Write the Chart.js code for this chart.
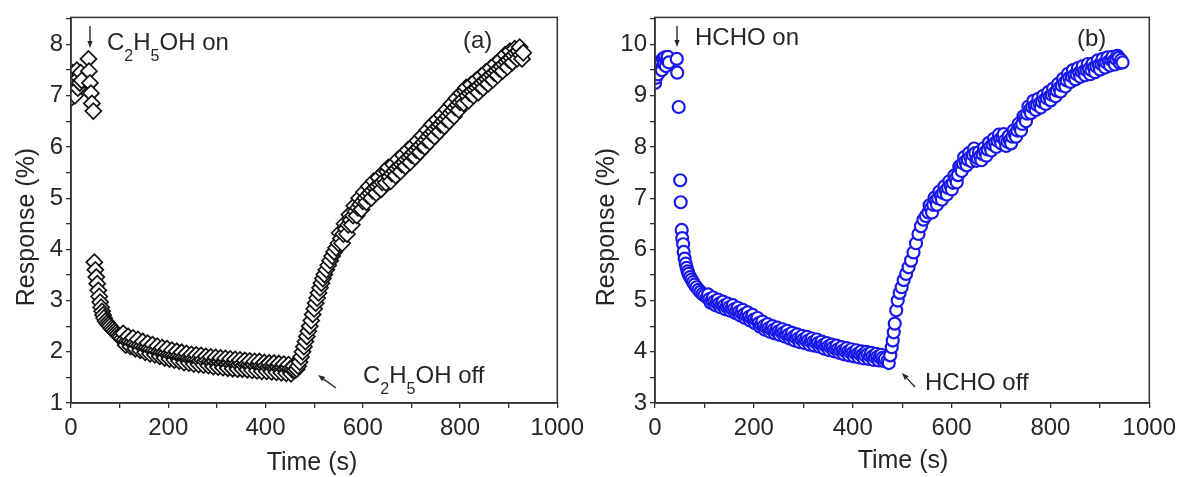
<!DOCTYPE html>
<html><head><meta charset="utf-8">
<script src="https://cdn.jsdelivr.net/npm/chart.js@4.4.1/dist/chart.umd.min.js"></script>
<style>
html,body{margin:0;padding:0;background:#fff;width:1182px;height:477px;overflow:hidden}
#wa{position:absolute;left:0;top:0;width:590px;height:477px}
#wb{position:absolute;left:590px;top:0;width:592px;height:477px}
</style></head><body>
<div id="wa"><canvas id="ca" width="590" height="477"></canvas></div>
<div id="wb"><canvas id="cb" width="592" height="477"></canvas></div>
<script>
// ---- data (a) C2H5OH : main readings ----
const timeA = [0,2,4,6,8,10,12,14,16,18,20,22,36,37,39,41,43,46,
48,50,52,54,56,58,60,62,64,66,68,71,74,77,80,83,86,89,92,95,98,101,
105,110,115,120,125,130,135,140,145,150,155,160,165,170,175,180,185,190,195,200,
205,210,215,220,225,230,235,240,245,250,255,260,265,270,275,280,285,290,295,300,
305,310,315,320,325,330,335,340,345,350,355,360,365,370,375,380,385,390,395,400,
405,410,415,420,425,430,435,440,445,450,455,460,
464,467,470,473,476,479,482,485,488,491,494,497,500,503,506,509,512,515,518,521,
525,529,533,537,541,545,550,555,560,565,570,575,580,585,590,595,600,605,610,615,
620,625,630,635,640,645,650,655,660,665,670,675,680,685,690,695,700,705,710,715,
720,725,730,735,740,745,750,755,760,765,770,775,780,785,790,795,800,805,810,815,
820,825,830,835,840,845,850,855,860,865,870,875,880,885,890,895,900,905,910,915,
920,925,930];
const respA = [6.95,7.1,7.45,7.2,7.0,7.3,7.5,7.15,7.35,7.25,7.45,7.3,7.72,7.48,7.25,7.05,6.85,6.7,
3.75,3.6,3.46,3.33,3.2,3.08,2.97,2.87,2.79,2.72,2.66,2.6,2.56,2.53,2.5,2.46,2.43,2.4,2.37,2.34,2.31,2.29,
2.26,2.23,2.21,2.2,2.18,2.16,2.14,2.12,2.11,2.09,2.08,2.06,2.05,2.03,2.02,2.0,1.99,1.98,1.97,1.95,
1.94,1.93,1.92,1.91,1.9,1.89,1.88,1.87,1.86,1.86,1.85,1.84,1.83,1.84,1.82,1.83,1.81,1.8,1.81,1.79,
1.8,1.78,1.79,1.77,1.78,1.76,1.77,1.76,1.75,1.76,1.74,1.75,1.74,1.73,1.74,1.72,1.73,1.72,1.71,1.72,
1.7,1.71,1.7,1.69,1.7,1.68,1.69,1.67,1.68,1.66,1.65,1.64,
1.66,1.72,1.8,1.9,2.0,2.1,2.2,2.3,2.4,2.5,2.61,2.73,2.84,2.95,3.05,3.15,3.25,3.34,3.43,3.51,
3.6,3.69,3.78,3.87,3.95,4.03,4.12,4.21,4.3,4.4,4.48,4.57,4.66,4.74,4.81,4.88,4.94,5.0,5.05,5.1,
5.15,5.2,5.23,5.27,5.31,5.36,5.52,5.42,5.48,5.53,5.58,5.62,5.66,5.7,5.76,5.8,5.84,5.9,5.94,5.99,
6.04,6.09,6.14,6.2,6.26,6.3,6.36,6.4,6.44,6.5,6.55,6.6,6.66,6.71,6.77,6.82,6.87,6.92,7.1,7.0,
7.05,7.09,7.13,7.16,7.2,7.25,7.29,7.33,7.37,7.41,7.45,7.49,7.53,7.57,7.62,7.66,7.7,7.74,7.79,7.84,
7.87,7.8,7.84];
// ---- data (a) : interleaved readings (scatter of the band) ----
const timeA2 = [107.5,112.5,117.5,122.5,127.5,132.5,137.5,142.5,147.5,152.5,157.5,162.5,167.5,172.5,177.5,
182.5,187.5,192.5,197.5,202.5,207.5,212.5,217.5,222.5,227.5,232.5,237.5,242.5,247.5,252.5,
257.5,262.5,267.5,272.5,277.5,282.5,287.5,292.5,297.5,302.5,307.5,312.5,317.5,322.5,327.5,
332.5,337.5,342.5,347.5,352.5,357.5,362.5,367.5,372.5,377.5,382.5,387.5,392.5,397.5,402.5,
407.5,412.5,417.5,422.5,427.5,432.5,437.5,442.5,447.5,452.5,457.5,
552.5,557.5,562.5,567.5,572.5,577.5,582.5,587.5,592.5,597.5,602.5,607.5,612.5,617.5,622.5,
627.5,632.5,637.5,642.5,647.5,652.5,657.5,662.5,667.5,672.5,677.5,682.5,687.5,692.5,697.5,
702.5,707.5,712.5,717.5,722.5,727.5,732.5,737.5,742.5,747.5,752.5,757.5,762.5,767.5,772.5,
777.5,782.5,787.5,792.5,797.5,802.5,807.5,812.5,817.5,822.5,827.5,832.5,837.5,842.5,847.5,
852.5,857.5,862.5,867.5,872.5,877.5,882.5,887.5,892.5,897.5,902.5,907.5,912.5,917.5,922.5,927.5];
const respA2 = [2.36,2.13,2.30,2.10,2.27,2.06,2.24,2.03,2.20,1.99,2.17,1.96,2.14,1.94,2.11,
1.91,2.08,1.88,2.06,1.86,2.03,1.84,2.01,1.82,1.99,1.79,1.97,1.78,1.95,1.76,
1.94,1.75,1.93,1.74,1.91,1.73,1.90,1.71,1.89,1.70,1.88,1.69,1.87,1.68,1.86,
1.67,1.85,1.66,1.84,1.66,1.83,1.65,1.82,1.64,1.81,1.63,1.81,1.62,1.79,1.62,
1.78,1.61,1.78,1.60,1.77,1.59,1.76,1.58,1.75,1.57,1.72,
4.32,4.12,4.5,4.3,4.68,4.48,4.85,4.66,5.0,4.78,5.12,4.92,5.23,5.0,5.33,
5.1,5.4,5.17,5.5,5.3,5.6,5.33,5.66,5.44,5.76,5.52,5.84,5.62,5.94,5.7,
6.02,5.8,6.12,5.9,6.22,6.0,6.33,6.1,6.44,6.2,6.53,6.3,6.62,6.4,6.73,
6.5,6.84,6.6,6.95,6.72,7.05,6.85,7.16,6.9,7.22,7.0,7.3,7.06,7.38,7.15,
7.46,7.23,7.54,7.31,7.62,7.4,7.7,7.48,7.8,7.56,7.87,7.65,7.92,7.72,7.95,7.72];

// ---- data (b) HCHO : main readings ----
const timeB = [0,2,4,6,8,10,12,14,16,18,20,22,24,26,28,44,45,
48,51,52,54,55,57,58,60,62,64,66,68,71,74,77,80,84,88,92,96,100,
105,110,115,120,125,130,135,140,145,150,155,160,165,170,175,180,185,190,195,200,
205,210,215,220,225,230,235,240,245,250,255,260,265,270,275,280,285,290,295,300,
305,310,315,320,325,330,335,340,345,350,355,360,365,370,375,380,385,390,395,400,
405,410,415,420,425,430,435,440,445,450,455,460,465,470,473,
476,479,481,483,485,488,491,495,499,503,508,513,518,523,528,533,538,543,548,553,
558,563,568,573,578,583,588,593,598,603,608,613,618,623,628,633,638,643,648,653,
658,663,668,673,678,683,688,693,698,703,708,713,718,723,728,733,738,743,748,753,
758,763,768,773,778,783,788,793,798,803,808,813,818,823,828,833,838,843,848,853,
858,863,868,873,878,883,888,893,898,903,908,913,918,923,928,933,938,943,946];
const respB = [9.25,9.35,9.5,9.42,9.6,9.55,9.68,9.5,9.72,9.62,9.75,9.58,9.7,9.76,9.65,9.72,9.45,
8.78,7.35,6.92,6.38,6.22,6.1,5.95,5.82,5.72,5.64,5.57,5.52,5.46,5.41,5.36,5.31,5.26,5.21,5.17,5.13,5.1,
5.06,5.03,5.0,4.98,4.96,4.94,4.92,4.9,4.88,4.87,4.85,4.83,4.8,4.78,4.76,4.73,4.71,4.68,4.66,4.63,
4.62,4.56,4.53,4.5,4.48,4.46,4.44,4.43,4.41,4.4,4.39,4.37,4.35,4.33,4.31,4.29,4.28,4.26,4.25,4.24,
4.23,4.22,4.2,4.19,4.18,4.17,4.15,4.13,4.12,4.1,4.09,4.08,4.06,4.05,4.03,4.02,4.01,4.0,3.99,3.98,
3.97,3.96,3.95,3.94,3.93,3.95,3.92,3.91,3.9,3.9,3.89,3.88,3.86,3.82,3.78,
3.93,4.09,4.22,4.38,4.55,4.81,5.0,5.15,5.26,5.4,5.52,5.65,5.78,5.94,6.12,6.3,6.45,6.58,6.65,6.72,
6.8,6.87,6.95,7.0,7.05,7.1,7.15,7.2,7.25,7.3,7.38,7.45,7.58,7.68,7.72,7.75,7.8,7.85,7.88,7.78,
7.82,7.86,7.9,7.95,8.0,8.05,8.08,8.12,8.15,8.18,8.12,8.1,8.13,8.2,8.25,8.32,8.38,8.45,8.55,8.65,
8.72,8.78,8.8,8.82,8.85,8.88,8.92,8.95,8.98,9.02,9.05,9.1,9.15,9.2,9.25,9.3,9.35,9.38,9.4,9.42,
9.45,9.47,9.48,9.5,9.52,9.5,9.55,9.57,9.6,9.62,9.63,9.65,9.67,9.7,9.68,9.72,9.74,9.7,9.65];
// ---- data (b) : interleaved readings (scatter of the band) ----
const timeB2 = [107.5,112.5,117.5,122.5,127.5,132.5,137.5,142.5,147.5,152.5,157.5,162.5,167.5,172.5,177.5,
182.5,187.5,192.5,197.5,202.5,207.5,212.5,217.5,222.5,227.5,232.5,237.5,242.5,247.5,252.5,
257.5,262.5,267.5,272.5,277.5,282.5,287.5,292.5,297.5,302.5,307.5,312.5,317.5,322.5,327.5,
332.5,337.5,342.5,347.5,352.5,357.5,362.5,367.5,372.5,377.5,382.5,387.5,392.5,397.5,402.5,
407.5,412.5,417.5,422.5,427.5,432.5,437.5,442.5,447.5,452.5,457.5,462.5,
555.5,560.5,565.5,570.5,575.5,580.5,585.5,590.5,595.5,600.5,605.5,610.5,615.5,620.5,625.5,
630.5,635.5,640.5,645.5,650.5,655.5,660.5,665.5,670.5,675.5,680.5,685.5,690.5,695.5,700.5,
705.5,710.5,715.5,720.5,725.5,730.5,735.5,740.5,745.5,750.5,755.5,760.5,765.5,770.5,775.5,
780.5,785.5,790.5,795.5,800.5,805.5,810.5,815.5,820.5,825.5,830.5,835.5,840.5,845.5,850.5,
855.5,860.5,865.5,870.5,875.5,880.5,885.5,890.5,895.5,900.5,905.5,910.5,915.5,920.5,925.5,
930.5,935.5,940.5];
const respB2 = [5.12,4.96,5.06,4.91,5.02,4.87,4.98,4.83,4.94,4.8,4.91,4.76,4.86,4.71,4.82,
4.66,4.77,4.61,4.72,4.56,4.66,4.49,4.59,4.43,4.54,4.39,4.5,4.36,4.47,4.33,
4.44,4.3,4.41,4.26,4.37,4.22,4.34,4.19,4.31,4.17,4.29,4.14,4.26,4.12,4.24,
4.1,4.2,4.06,4.17,4.03,4.14,4.01,4.12,3.98,4.09,3.95,4.07,3.93,4.05,3.91,
4.03,3.89,4.01,3.87,4.0,3.86,3.98,3.84,3.96,3.83,3.94,3.82,
6.86,6.72,7.01,6.87,7.13,6.97,7.23,7.07,7.33,7.17,7.44,7.31,7.62,7.53,7.8,
7.64,7.88,7.72,7.97,7.73,7.9,7.74,7.98,7.83,8.08,7.93,8.16,8.0,8.24,8.07,
8.25,8.02,8.21,8.07,8.32,8.2,8.45,8.32,8.6,8.5,8.79,8.66,8.9,8.72,8.94,
8.77,9.0,8.84,9.07,8.91,9.14,8.99,9.23,9.08,9.33,9.18,9.43,9.27,9.5,9.32,
9.54,9.37,9.58,9.4,9.62,9.42,9.63,9.46,9.69,9.51,9.72,9.55,9.75,9.59,9.76,
9.61,9.78,9.64];

const xTickLabels = [0,200,400,600,800,1000];
const yTickLabelsA = [1,2,3,4,5,6,7,8];
const yTickLabelsB = [3,4,5,6,7,8,9,10];

const FONT = '"Liberation Sans", Arial, Helvetica, sans-serif';
const INK = '#262626';
Chart.defaults.font.family = FONT;
Chart.defaults.color = INK;

function arrow(ctx, x1, y1, x2, y2) {
  const a = Math.atan2(y2 - y1, x2 - x1), L = 7, W = 2.6;
  ctx.beginPath(); ctx.moveTo(x1, y1);
  ctx.lineTo(x2 - L * Math.cos(a), y2 - L * Math.sin(a)); ctx.stroke();
  ctx.beginPath(); ctx.moveTo(x2, y2);
  ctx.lineTo(x2 - L * Math.cos(a) + W * Math.sin(a), y2 - L * Math.sin(a) - W * Math.cos(a));
  ctx.lineTo(x2 - L * Math.cos(a) - W * Math.sin(a), y2 - L * Math.sin(a) + W * Math.cos(a));
  ctx.closePath(); ctx.fill();
}
function rich(ctx, parts, x, y, size) {
  let cx = x;
  for (const [s, sub] of parts) {
    ctx.font = (sub ? 16 : size) + 'px ' + FONT;
    ctx.fillText(s, cx, sub ? y + 11 : y);
    cx += ctx.measureText(s).width;
  }
}

const decor = {
  id: 'decor',
  afterDatasetsDraw(chart, args, o) {
    const ca = chart.chartArea, ctx = chart.ctx;
    ctx.save();
    ctx.strokeStyle = '#333'; ctx.lineWidth = 1.5;
    ctx.strokeRect(ca.left, ca.top, ca.right - ca.left, ca.bottom - ca.top);
    ctx.restore();
  },
  afterDraw(chart, args, o) {
    const ctx = chart.ctx;
    ctx.save();
    ctx.fillStyle = INK; ctx.strokeStyle = INK; ctx.lineWidth = 1.4;
    ctx.textBaseline = 'alphabetic'; ctx.textAlign = 'left';
    for (const t of o.texts) rich(ctx, t.parts, t.x, t.y, 24);
    for (const a of o.arrows) arrow(ctx, a[0], a[1], a[2], a[3]);
    ctx.font = '25px ' + FONT;
    ctx.textAlign = 'center';
    ctx.fillText('Time (s)', o.xTitle[0], o.xTitle[1]);
    ctx.translate(o.yTitle[0], o.yTitle[1]);
    ctx.rotate(-Math.PI / 2);
    ctx.textBaseline = 'middle';
    ctx.fillText('Response (%)', 0, 0);
    ctx.restore();
  }
};

function merge(t1, v1, t2, v2) {
  const pts = t1.map((t, i) => ({x: t, y: v1[i]})).concat(t2.map((t, i) => ({x: t, y: v2[i]})));
  return pts.sort((a, b) => a.x - b.x);
}

function makeChart(id, pts, yMin, yMax, yLabels, ds, pad, yW, dec) {
  return new Chart(document.getElementById(id), {
    type: 'scatter',
    data: {datasets: [Object.assign({data: pts, clip: 0, backgroundColor: '#ffffff'}, ds)]},
    options: {
      responsive: false, animation: false, devicePixelRatio: 1,
      layout: {padding: pad},
      plugins: {legend: {display: false}, tooltip: {enabled: false}, decor: dec},
      scales: {
        x: {
          type: 'linear', min: 0, max: 1000,
          afterFit: s => { s.height = 74; },
          grid: {display: true, drawOnChartArea: false, drawTicks: true, tickLength: 5, color: '#333', lineWidth: 1.3},
          border: {display: true, color: '#333', width: 1.5},
          ticks: {stepSize: 100, autoSkip: false, maxRotation: 0, padding: 6, maxTicksLimit: 100,
            font: {size: 24}, color: INK,
            callback: v => xTickLabels.includes(v) ? String(v) : ''}
        },
        y: {
          type: 'linear', min: yMin, max: yMax,
          afterFit: s => { s.width = yW; },
          grid: {display: true, drawOnChartArea: false, drawTicks: true, tickLength: 5, color: '#333', lineWidth: 1.3},
          border: {display: true, color: '#333', width: 1.5},
          ticks: {stepSize: 0.5, autoSkip: false, padding: 3, includeBounds: false, maxTicksLimit: 100,
            font: {size: 24}, color: INK,
            callback: v => yLabels.includes(v) ? String(v) : ''}
        }
      }
    },
    plugins: [decor]
  });
}

makeChart('ca', merge(timeA, respA, timeA2, respA2), 1, 8.53, yTickLabelsA,
  {pointStyle: 'rectRot', pointRadius: 8, borderColor: '#111', borderWidth: 1.7},
  {left: 0, right: 22, top: 16, bottom: 0}, 71,
  {
    texts: [
      {parts: [['C',0],['2',1],['H',0],['5',1],['OH on',0]], x: 107, y: 50},
      {parts: [['(a)',0]], x: 463, y: 48},
      {parts: [['C',0],['2',1],['H',0],['5',1],['OH off',0]], x: 363, y: 383}
    ],
    arrows: [[90, 26, 90, 48], [336, 388, 318, 375]],
    xTitle: [312, 470], yTitle: [27, 227]
  });

makeChart('cb', merge(timeB, respB, timeB2, respB2), 3, 10.53, yTickLabelsB,
  {pointStyle: 'circle', pointRadius: 6, borderColor: 'rgb(25,25,235)', borderWidth: 2.2},
  {left: 0, right: 29, top: 16, bottom: 0}, 65,
  {
    texts: [
      {parts: [['HCHO on',0]], x: 105, y: 45},
      {parts: [['(b)',0]], x: 487, y: 46},
      {parts: [['HCHO off',0]], x: 335, y: 390}
    ],
    arrows: [[87, 26, 87, 47], [325, 387, 312, 373]],
    xTitle: [313, 468], yTitle: [17, 227]
  });
</script>
</body></html>
